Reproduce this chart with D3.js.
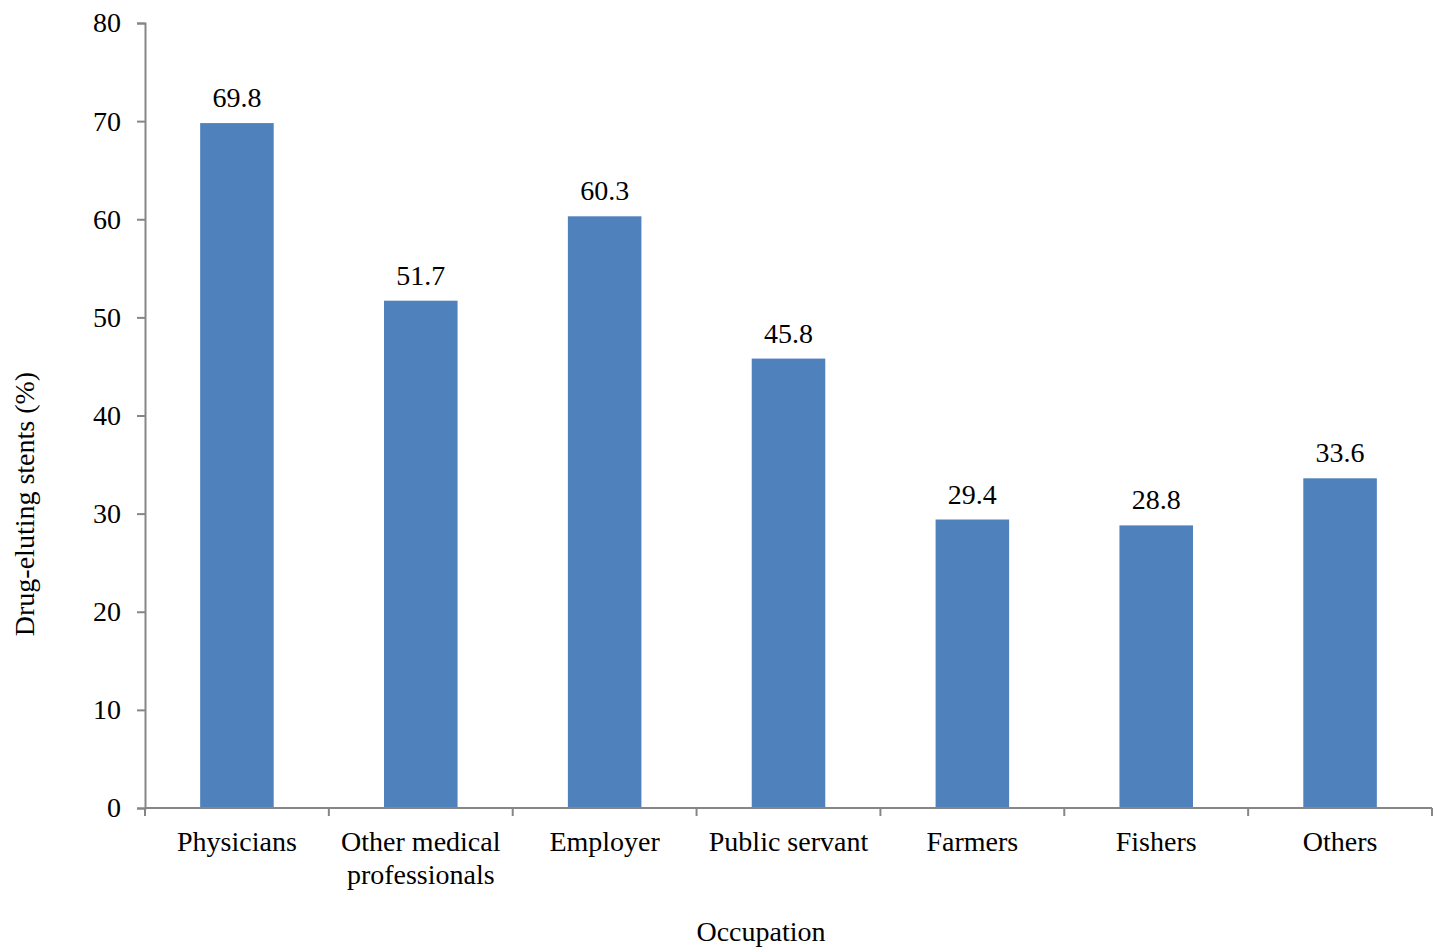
<!DOCTYPE html>
<html>
<head>
<meta charset="utf-8">
<script src="https://cdn.jsdelivr.net/npm/d3@7"></script>
<style>
  body { margin: 0; background: #fff; }
  text { font-family: "Liberation Serif", "Times New Roman", serif; fill: #000; }
</style>
</head>
<body>
<div id="chart"></div>
<script>
const categories = ["Physicians", "Other medical\nprofessionals", "Employer", "Public servant", "Farmers", "Fishers", "Others"];
const values = [69.8, 51.7, 60.3, 45.8, 29.4, 28.8, 33.6];
const yTicks = [0, 10, 20, 30, 40, 50, 60, 70, 80];

let width = 1439,
    height = 947,
    margin = {top: 23, right: 7, bottom: 139, left: 145},
    axisColor = "#868686",
    barColor = "#4F81BD",
    fontSize = "28px";

let svg = d3.select("#chart").append("svg")
    .attr("width", width)
    .attr("height", height);

let g = svg.append("g")
    .attr("transform", `translate(${margin.left}, ${margin.top})`);

let innerW = width - margin.left - margin.right,
    innerH = height - margin.top - margin.bottom;

/* Scales */
let xScale = d3.scaleBand()
    .domain(categories)
    .range([0, innerW])
    .paddingInner(0.6)
    .paddingOuter(0.3);

let yScale = d3.scaleLinear()
    .domain([0, 80])
    .range([innerH, 0]);

/* Bars */
g.selectAll(".bar")
    .data(values).enter()
    .append("rect")
    .attr("class", "bar")
    .attr("x", (d, i) => xScale(categories[i]))
    .attr("y", d => yScale(d))
    .attr("width", xScale.bandwidth())
    .attr("height", d => innerH - yScale(d))
    .attr("fill", barColor);

/* Value labels */
g.selectAll(".val")
    .data(values).enter()
    .append("text")
    .attr("class", "val")
    .attr("x", (d, i) => xScale(categories[i]) + xScale.bandwidth() / 2)
    .attr("y", d => yScale(d) - 16)
    .attr("text-anchor", "middle")
    .style("font-size", fontSize)
    .text(d => d.toFixed(1));

/* Y axis */
let yAxis = g.append("g")
    .attr("class", "y axis")
    .call(d3.axisLeft(yScale).tickValues(yTicks).tickSize(8).tickPadding(16));
yAxis.select(".domain").attr("stroke", axisColor).attr("stroke-width", 2);
yAxis.selectAll(".tick line").attr("stroke", axisColor).attr("stroke-width", 2);
yAxis.selectAll(".tick text")
    .style("font-size", fontSize)
    .style("font-family", "'Liberation Serif', serif")
    .attr("fill", "#000");

/* X axis: ticks at band boundaries */
let xAxisG = g.append("g")
    .attr("class", "x axis")
    .attr("transform", `translate(0, ${innerH})`);
xAxisG.append("line")
    .attr("x1", 0).attr("x2", innerW)
    .attr("stroke", axisColor).attr("stroke-width", 2);
let bounds = d3.range(categories.length + 1).map(i => i * innerW / categories.length);
xAxisG.selectAll(".xtick")
    .data(bounds).enter()
    .append("line")
    .attr("x1", d => d).attr("x2", d => d)
    .attr("y1", 0).attr("y2", 8)
    .attr("stroke", axisColor).attr("stroke-width", 2);

let labels = xAxisG.selectAll(".xlabel")
    .data(categories).enter()
    .append("text")
    .attr("class", "xlabel")
    .attr("text-anchor", "middle")
    .attr("x", d => xScale(d) + xScale.bandwidth() / 2)
    .attr("y", 43)
    .style("font-size", fontSize);
labels.selectAll("tspan")
    .data(d => d.split("\n")).enter()
    .append("tspan")
    .attr("x", function() { return d3.select(this.parentNode).attr("x"); })
    .attr("dy", (d, i) => i === 0 ? 0 : 33)
    .text(d => d);

/* Axis titles */
svg.append("text")
    .attr("x", 761)
    .attr("y", 941)
    .attr("text-anchor", "middle")
    .style("font-size", fontSize)
    .text("Occupation");

svg.append("text")
    .attr("transform", `translate(34, 504) rotate(-90)`)
    .attr("text-anchor", "middle")
    .style("font-size", fontSize)
    .text("Drug-eluting stents (%)");
</script>
</body>
</html>
